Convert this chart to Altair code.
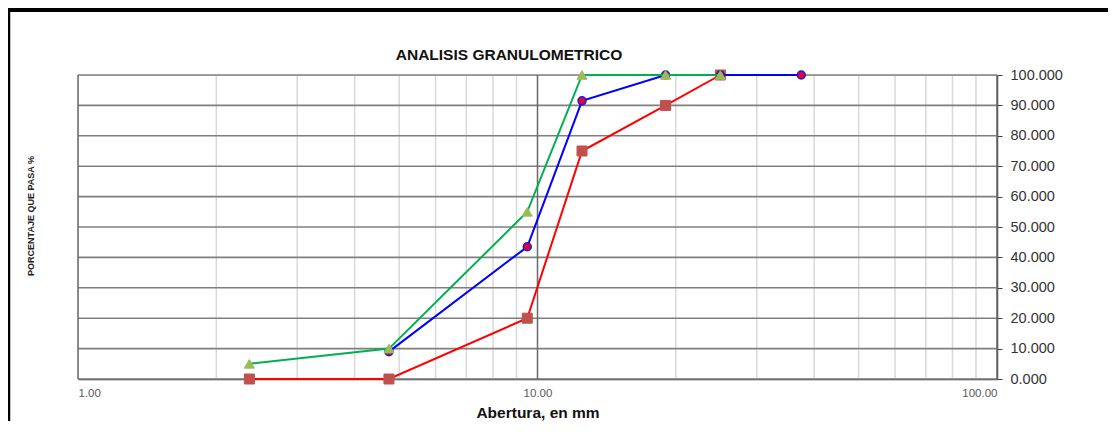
import altair as alt
import pandas as pd

# Sieve openings (mm) and percent passing for each sample
red_x = [2.36, 4.75, 9.5, 12.5, 19.0, 25.0]
red_y = [0.0, 0.0, 20.0, 75.0, 90.0, 100.0]
blue_x = [4.75, 9.5, 12.5, 19.0, 25.0, 37.5]
blue_y = [9.0, 43.5, 91.5, 100.0, 100.0, 100.0]
green_x = [2.36, 4.75, 9.5, 12.5, 19.0, 25.0]
green_y = [5.0, 10.0, 55.0, 100.0, 100.0, 100.0]

x_major = [1, 10, 100]
x_minor = [2, 3, 4, 5, 6, 7, 8, 9, 20, 30, 40, 50, 60, 70, 80, 90]
y_ticks = [0, 10, 20, 30, 40, 50, 60, 70, 80, 90, 100]

W, H = 919, 304
FONT = "Liberation Sans, Arial"

def df(xs, ys):
    return pd.DataFrame({"x": xs, "y": ys})

xscale = alt.Scale(type="log", domain=[1, 100], nice=False)
yscale = alt.Scale(domain=[0, 100], nice=False)

X_AX = alt.Axis(values=x_major, format=".2f", grid=False, orient="bottom",
                labelFontSize=11.5, labelColor="#5a5a5a", labelFont=FONT,
                domainColor="#404040", domainWidth=1.5, ticks=False,
                labelPadding=8,
                title="Abertura, en mm", titleFontSize=15.5, titleFont=FONT,
                titleFontWeight="bold", titleColor="#111111", titlePadding=7)
Y_AX = alt.Axis(values=y_ticks, format=".3f", grid=False, orient="right",
                labelFontSize=14.5, labelColor="#333333", labelFont=FONT,
                domainColor="#404040", domainWidth=1.5, tickColor="#404040",
                tickSize=5, labelPadding=8, title=None)

def X(f="x"):
    return alt.X(f + ":Q", scale=xscale, axis=X_AX, title="Abertura, en mm")

def Y(f="y"):
    return alt.Y(f + ":Q", scale=yscale, axis=Y_AX, title=None)

minor = alt.Chart(pd.DataFrame({"x": x_minor})).mark_rule(color="#d9d9d9", strokeWidth=1.5).encode(
    x=X())
hgrid = alt.Chart(pd.DataFrame({"y": y_ticks})).mark_rule(color="#7f7f7f", strokeWidth=1.6).encode(
    y=Y())
major = alt.Chart(pd.DataFrame({"x": x_major})).mark_rule(color="#6a6a6a", strokeWidth=1.5).encode(
    x=X())

def series(xs, ys, line_color, shape, fill, stroke, size, sw):
    base = alt.Chart(df(xs, ys)).encode(x=X(), y=Y())
    ln = base.mark_line(color=line_color, strokeWidth=2)
    pt = base.mark_point(shape=shape, filled=True, fill=fill, stroke=stroke,
                         strokeWidth=sw, size=size, opacity=1)
    return ln + pt

red = series(red_x, red_y, "#ff0000", "square", "#c0504d", "#c0504d", 100, 1)
blue = series(blue_x, blue_y, "#0000ff", "circle", "#e0004a", "#2020c0", 64, 1.5)
green = series(green_x, green_y, "#00b050", "triangle-up", "#9bbb59", "#9bbb59", 100, 1)

one = pd.DataFrame({"a": [0]})
ytitle = alt.Chart(one).mark_text(text="PORCENTAJE QUE PASA %", angle=270, fontSize=9,
                                   fontWeight="bold", font=FONT, color="#222222").encode(
    x=alt.value(-47), y=alt.value(141))
title = alt.Chart(one).mark_text(text="ANALISIS GRANULOMETRICO", fontSize=15.5,
                                 fontWeight="bold", font=FONT, color="#111111").encode(
    x=alt.value(431), y=alt.value(-20))
left_frame = alt.Chart(one).mark_rule(color="#000000", strokeWidth=3.5).encode(
    x=alt.value(-69.5), y=alt.value(-67), y2=alt.value(346))
top_frame = alt.Chart(one).mark_rule(color="#000000", strokeWidth=5).encode(
    x=alt.value(-70), x2=alt.value(1030), y=alt.value(-65.5))

chart = alt.layer(minor, hgrid, major, red, blue, green, ytitle, title,
                  left_frame, top_frame).properties(
    width=W, height=H,
    autosize=alt.AutoSizeParams(type="none"),
    padding={"left": 70, "top": 67, "right": 111, "bottom": 42},
).configure_view(stroke=None).configure(background="#ffffff")

chart.save("out.html", embed_options={"renderer": "svg", "actions": False})
